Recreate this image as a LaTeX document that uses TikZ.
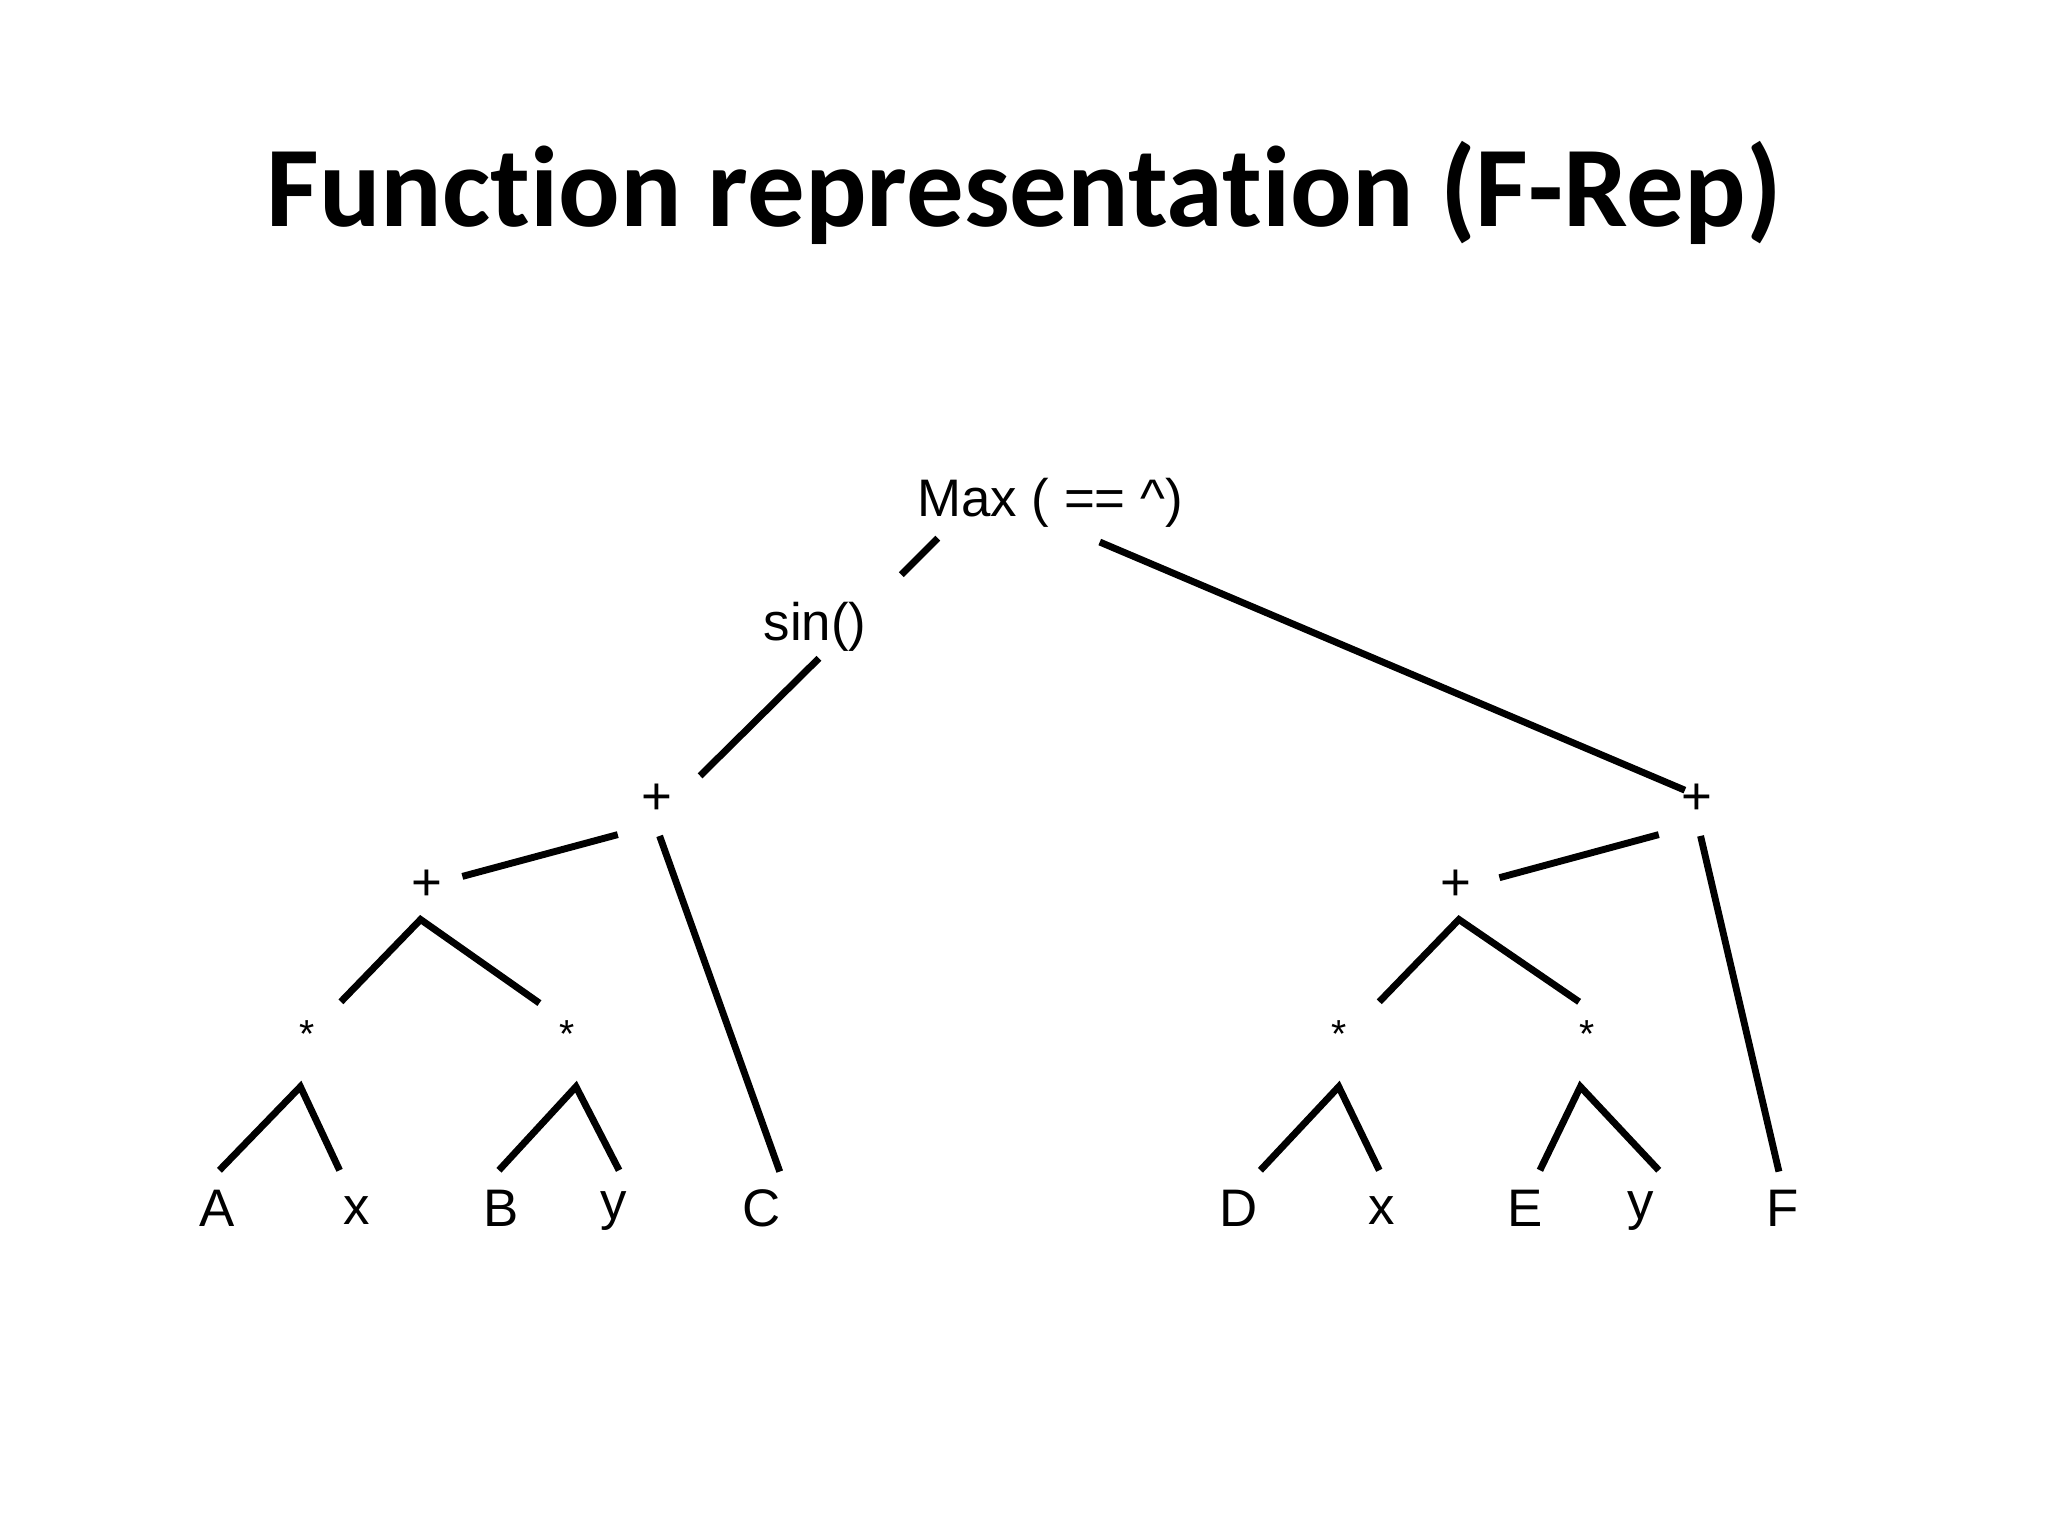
\documentclass[tikz,border=0pt]{standalone}
\usepackage{fontspec}
\setmainfont{Liberation Sans}
\newfontfamily\titlefont[Ligatures={NoCommon,NoRequired,NoContextual}]{Carlito}
\begin{document}
\begin{tikzpicture}[x=0.01cm,y=-0.01cm,
  lab/.style={font=\fontsize{11.5}{14}\selectfont,inner sep=0pt},
  sm/.style={font=\fontsize{8.5}{10}\selectfont,inner sep=0pt},
  edge/.style={line width=1.5pt}]
\useasboundingbox[fill=white] (0,0) rectangle (1568,1176);
\node[font=\titlefont\bfseries\fontsize{25}{30}\selectfont] (title) at (784,148) {Function representation (F-Rep)};
\node[lab] (max) at (804,385) {Max ( == \^{})};
\node[lab] (sin) at (624,480) {sin()};
\node[lab] (p1) at (503,612) {+};
\node[lab] (p2) at (327,678) {+};
\node[sm] (s1) at (235,792) {*};
\node[sm] (s2) at (434,792) {*};
\node[lab] (A) at (166,925) {A};
\node[lab] (x1) at (273,927) {x};
\node[lab] (B) at (384,925) {B};
\node[lab] (y1) at (470,927) {y};
\node[lab] (C) at (583,925) {C};
\node[lab] (pr) at (1299,612) {+};
\node[lab] (pr2) at (1115,678) {+};
\node[sm] (s3) at (1025,792) {*};
\node[sm] (s4) at (1215,792) {*};
\node[lab] (D) at (948,925) {D};
\node[lab] (x2) at (1058,927) {x};
\node[lab] (E) at (1168,925) {E};
\node[lab] (y2) at (1256,927) {y};
\node[lab] (F) at (1365,925) {F};
% edge end points
\coordinate (a1) at (718,412); \coordinate (a2) at (690,440);
\coordinate (b1) at (842,415); \coordinate (b2) at (1290,605);
\coordinate (c1) at (627,504); \coordinate (c2) at (536,594);
\coordinate (d1) at (473,639); \coordinate (d2) at (354,671);
\coordinate (e1) at (505,640); \coordinate (e2) at (597,897);
\coordinate (f0) at (322,704); \coordinate (f1) at (261,767); \coordinate (f2) at (413,768);
\coordinate (g0) at (230,832); \coordinate (g1) at (168,896); \coordinate (g2) at (260,896);
\coordinate (h0) at (441,832); \coordinate (h1) at (382,896); \coordinate (h2) at (474,896);
\coordinate (i1) at (1270,639); \coordinate (i2) at (1148,672);
\coordinate (j1) at (1302,640); \coordinate (j2) at (1362,897);
\coordinate (k0) at (1117,704); \coordinate (k1) at (1056,767); \coordinate (k2) at (1209,767);
\coordinate (l0) at (1025,832); \coordinate (l1) at (965,896); \coordinate (l2) at (1056,896);
\coordinate (m0) at (1210,832); \coordinate (m1) at (1179,896); \coordinate (m2) at (1270,896);
\draw[edge] (a1) -- (a2);
\draw[edge] (b1) -- (b2);
\draw[edge] (c1) -- (c2);
\draw[edge] (d1) -- (d2);
\draw[edge] (e1) -- (e2);
\draw[edge] (f1) -- (f0) -- (f2);
\draw[edge] (g1) -- (g0) -- (g2);
\draw[edge] (h1) -- (h0) -- (h2);
\draw[edge] (i1) -- (i2);
\draw[edge] (j1) -- (j2);
\draw[edge] (k1) -- (k0) -- (k2);
\draw[edge] (l1) -- (l0) -- (l2);
\draw[edge] (m1) -- (m0) -- (m2);
\end{tikzpicture}
\end{document}
